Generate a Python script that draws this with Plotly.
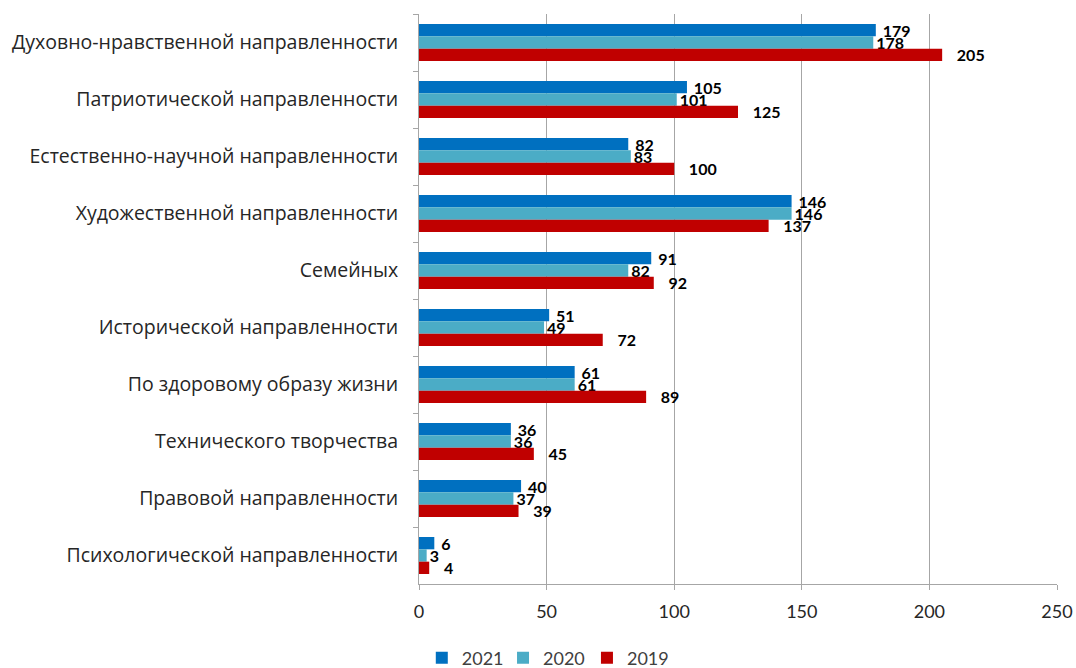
import plotly.graph_objects as go

categories = [
    "Духовно-нравственной направленности",
    "Патриотической направленности",
    "Естественно-научной направленности",
    "Художественной направленности",
    "Семейных",
    "Исторической направленности",
    "По здоровому образу жизни",
    "Технического творчества",
    "Правовой направленности",
    "Психологической направленности",
]
v2021 = [179, 105, 82, 146, 91, 51, 61, 36, 40, 6]
v2020 = [178, 101, 83, 146, 82, 49, 61, 36, 37, 3]
v2019 = [205, 125, 100, 137, 92, 72, 89, 45, 39, 4]

series = [
    ("2021", v2021, "#0070C0", " ", "legend", 0.392),
    ("2020", v2020, "#4BACC6", "", "legend2", 0.4675),
    ("2019", v2019, "#C00000", "   ", "legend3", 0.5455),
]

FONT = "Lato"
fig = go.Figure()
legends = {}
for name, vals, color, pad, leg, lx in series:
    fig.add_trace(go.Bar(
        name=name, y=categories, x=vals, orientation="h",
        marker=dict(color=color, line=dict(width=0)),
        text=[pad + str(v) for v in vals], textposition="outside",
        textfont=dict(family=FONT, size=16, color="#000000", weight="bold"),
        constraintext="none", cliponaxis=False, legend=leg,
    ))
    legends[leg] = dict(orientation="h", xref="container", x=lx, xanchor="left",
                        y=-0.13, yanchor="middle", itemwidth=30,
                        font=dict(family=FONT, size=18, color="#404040"))

fig.update_layout(
    barmode="group", bargap=0.35, bargroupgap=0,
    width=1076, height=668,
    margin=dict(l=419, r=19, t=14, b=84, autoexpand=False),
    plot_bgcolor="white", paper_bgcolor="white",
    font=dict(family=FONT, size=18, color="#262626"),
    showlegend=True,
    **legends,
)
fig.update_xaxes(range=[0, 250], dtick=50, tick0=0, showgrid=True, gridcolor="#A6A6A6", gridwidth=1,
                 showline=True, linecolor="#A6A6A6", ticks="outside", ticklen=5, tickcolor="#A6A6A6",
                 zeroline=False, automargin=False, ticklabelstandoff=6,
                 tickfont=dict(family=FONT, size=18, color="#262626"))
fig.update_yaxes(autorange="reversed", showline=True, linecolor="#A6A6A6", ticks="outside",
                 tickson="boundaries", ticklen=5, tickcolor="#A6A6A6", showgrid=False,
                 automargin=False,
                 tickfont=dict(family="Open Sans", size=19.5, color="#262626"), ticklabelstandoff=16)

fig.write_html("out.html", post_script="document.body.style.margin='0';",
               config={"displayModeBar": False})
